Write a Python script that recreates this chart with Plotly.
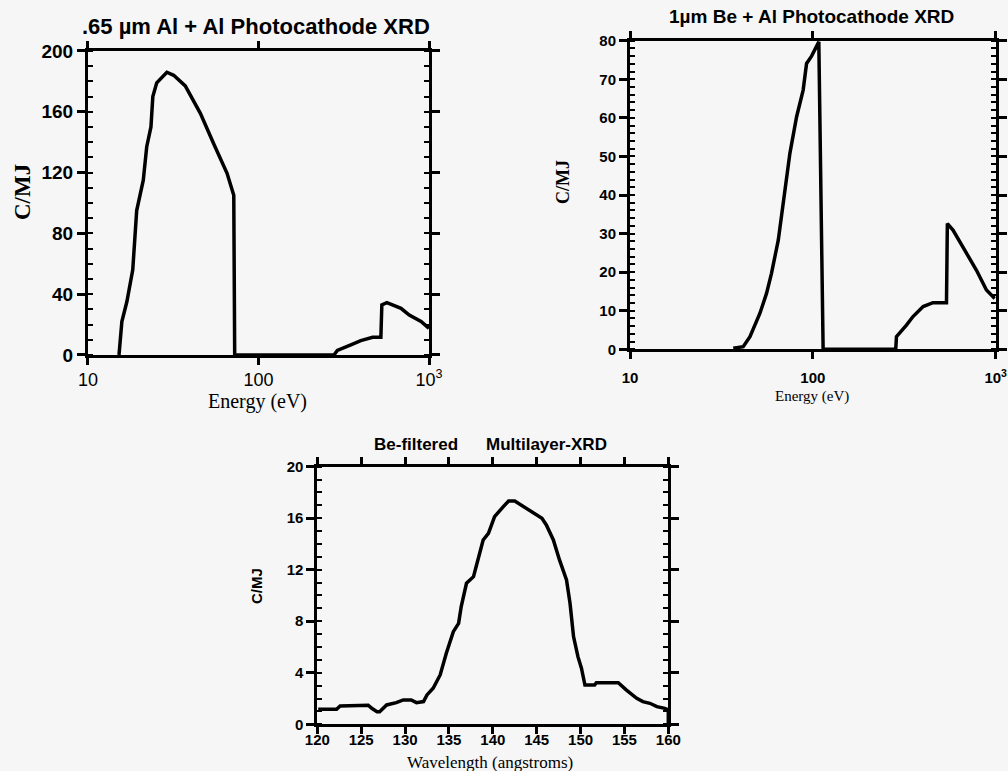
import plotly.graph_objects as go

# ---------------- data ----------------
# Panel 1: .65 um Al + Al Photocathode XRD
e1 = [15.2, 15.8, 16.9, 18.3, 19.3, 21.1, 22.1, 23.4, 24.0, 25.3, 29.0, 31.8, 37.2,
      45.6, 54.6, 65.4, 71.6, 72.5, 277, 290, 348, 398, 467, 522, 529, 566, 685,
      766, 898, 1000]
c1 = [0, 22, 35, 56, 95, 115, 137, 150, 170, 179, 186, 184, 177,
      159, 139, 119.5, 105, 0, 0, 3, 6.6, 9.4, 11.6, 11.6, 33, 34.4, 30.7,
      26.3, 22, 17.5]

# Panel 2: 1um Be + Al Photocathode XRD
e2 = [36.7, 41.6, 45.3, 51.3, 55.8, 59.4, 64.7, 70.3, 74.9, 81.5, 88.5, 92.4, 98.4,
      107.8, 113.8, 284, 286.6, 325, 353, 401, 454, 538, 544, 584, 663, 785, 890, 988]
c2 = [0.3, 0.7, 3.3, 9.3, 14.5, 19.7, 28.3, 42.1, 50.8, 60.3, 67.2, 74.1, 76,
      79.7, 0, 0, 3.3, 6.3, 8.5, 11.1, 12.1, 12.1, 32.6, 30.9, 26.6, 20.5, 15.4, 13.2]

# Panel 3: Be-filtered Multilayer-XRD
w3 = [120.1, 122.2, 122.6, 125.8, 126.2, 126.8, 127.1, 127.9, 129.0, 129.8, 130.7,
      131.3, 132.1, 132.5, 133.2, 134.0, 134.7, 135.5, 136.1, 136.4, 137.0, 137.8,
      138.2, 138.9, 139.5, 140.2, 141.2, 141.8, 142.5, 143.5, 144.6, 145.6, 146.1,
      146.9, 147.6, 148.4, 148.8, 149.2, 149.7, 150.1, 150.5, 151.6, 151.8, 154.3,
      155.2, 156.4, 157.1, 157.9, 158.7, 159.6, 160.0, 160.0]
c3 = [1.16, 1.16, 1.42, 1.48, 1.24, 0.98, 0.98, 1.5, 1.68, 1.89, 1.89,
      1.68, 1.76, 2.28, 2.8, 3.83, 5.51, 7.19, 7.84, 9.14, 10.95, 11.46,
      12.5, 14.31, 14.83, 16.12, 16.9, 17.34, 17.34, 16.9, 16.38, 15.99, 15.48,
      14.31, 12.76, 11.2, 9.39, 6.81, 5.25, 4.35, 3.05, 3.05, 3.23, 3.23,
      2.67, 2.02, 1.76, 1.63, 1.37, 1.24, 1.11, 0.1]

energy_ticks = [10, 100, 1000]
energy_ticktext = ["10", "100", "10<sup>3</sup>"]
wl_ticks = [120, 125, 130, 135, 140, 145, 150, 155, 160]

titles = [".65 µm Al + Al Photocathode XRD",
          "1µm Be + Al Photocathode XRD",
          "Be-filtered", "Multilayer-XRD"]

# ---------------- figure ----------------
BG = "#f6f6f6"
SANS = "Liberation Sans, Arial, sans-serif"
SERIF = "Liberation Serif, Times New Roman, serif"

fig = go.Figure()
line = dict(color="black", width=3.5)
fig.add_trace(go.Scatter(x=e1, y=c1, mode="lines", line=line, xaxis="x", yaxis="y"))
fig.add_trace(go.Scatter(x=e2, y=c2, mode="lines", line=line, xaxis="x2", yaxis="y2"))
fig.add_trace(go.Scatter(x=w3, y=c3, mode="lines", line=line, xaxis="x3", yaxis="y3"))


def xax(domain, anchor, log, rng, tickvals, ticktext, font, standoff=0):
    d = dict(domain=domain, anchor=anchor, range=rng, tickmode="array",
             tickvals=tickvals, ticktext=ticktext, ticks="outside", ticklen=7,
             tickwidth=2.5, tickcolor="black", showline=True, linewidth=3,
             linecolor="black", mirror="allticks", showgrid=False, zeroline=False,
             tickfont=font, fixedrange=True, automargin=False,
             ticklabelstandoff=standoff)
    if log:
        d["type"] = "log"
    return d


def yax(domain, anchor, rng, dtick, minor_dtick, font):
    return dict(domain=domain, anchor=anchor, range=rng, tickmode="linear", tick0=0,
                dtick=dtick, ticks="outside", ticklen=8, tickwidth=2.5,
                tickcolor="black", showline=True, linewidth=3, linecolor="black",
                mirror="allticks", showgrid=False, zeroline=False, tickfont=font,
                minor=dict(tickmode="linear", tick0=0, dtick=minor_dtick, ticks="inside",
                           ticklen=5, tickwidth=2, tickcolor="black"),
                fixedrange=True, automargin=False)


def yover(over, anchor, rng, dtick):
    return dict(overlaying=over, anchor=anchor, range=rng, tickmode="linear", tick0=0,
                dtick=dtick, ticks="inside", ticklen=8, tickwidth=2.5,
                tickcolor="black", showline=False, mirror="allticks",
                showticklabels=False, showgrid=False, zeroline=False, fixedrange=True,
                automargin=False)


f1x = dict(family=SANS, size=18, color="black")
f1y = dict(family=SANS, size=19, color="black", weight="bold")
f2 = dict(family=SANS, size=15, color="black", weight="bold")
f3 = dict(family=SANS, size=15, color="black", weight="bold")

d1x, d1y = [0.0873, 0.4256], [0.5396, 0.9339]
d2x, d2y = [0.625, 0.9878], [0.5469, 0.9472]
d3x, d3y = [0.3148, 0.663], [0.0606, 0.3947]

fig.update_layout(
    width=1008, height=771, margin=dict(l=0, r=0, t=0, b=0, autoexpand=False),
    paper_bgcolor=BG, plot_bgcolor=BG, showlegend=False,
    xaxis=xax(d1x, "y", True, [1, 3], energy_ticks, energy_ticktext, f1x, -1),
    yaxis=yax(d1y, "x", [0, 200], 40, 10, f1y),
    yaxis4=yover("y", "x", [0, 200], 40),
    xaxis2=xax(d2x, "y2", True, [1, 3], energy_ticks, energy_ticktext, f2, 6),
    yaxis2=yax(d2y, "x2", [0, 80], 10, 2, f2),
    yaxis5=yover("y2", "x2", [0, 80], 10),
    xaxis3=xax(d3x, "y3", False, [120, 160], wl_ticks, [str(v) for v in wl_ticks], f3, -7),
    yaxis3=yax(d3y, "x3", [0, 20], 4, 1, f3),
    yaxis6=yover("y3", "x3", [0, 20], 4),
)


def px(x, y):
    return dict(x=x / 1008, y=1 - y / 771, xref="paper", yref="paper", showarrow=False,
                xanchor="center", yanchor="middle")


ann = []
# panel titles
ann.append(dict(text=titles[0], **px(256, 27),
                font=dict(family=SANS, size=22, color="black", weight="bold")))
ann.append(dict(text=titles[1], **px(811, 16),
                font=dict(family=SANS, size=19, color="black", weight="bold")))
ann.append(dict(text=titles[2], **px(416, 445),
                font=dict(family=SANS, size=17, color="black", weight="bold")))
ann.append(dict(text=titles[3], **px(546, 445),
                font=dict(family=SANS, size=17, color="black", weight="bold")))
# axis titles
ann.append(dict(text="Energy (eV)", **px(257, 401),
                font=dict(family=SERIF, size=20, color="black")))
ann.append(dict(text="C/MJ", **px(22, 192), textangle=-90,
                font=dict(family=SERIF, size=23, color="black", weight="bold")))
ann.append(dict(text="Energy (eV)", **px(812, 397),
                font=dict(family=SERIF, size=15, color="black")))
ann.append(dict(text="C/MJ", **px(563, 182), textangle=-90,
                font=dict(family=SERIF, size=18, color="black", weight="bold")))
ann.append(dict(text="Wavelength (angstroms)", **px(490, 762),
                font=dict(family=SERIF, size=17, color="black")))
ann.append(dict(text="C/MJ", **px(256, 586), textangle=-90,
                font=dict(family=SANS, size=15, color="black", weight="bold")))
fig.update_layout(annotations=ann)

fig.write_html("out.html")
